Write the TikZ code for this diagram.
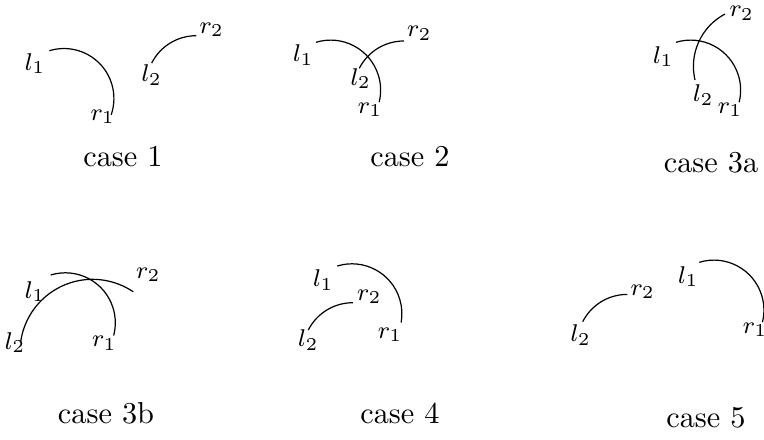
\documentclass[tikz,border=0pt]{standalone}
\begin{document}
\begin{tikzpicture}[x=0.33pt,y=-0.33pt,
  lab/.style={inner sep=0pt,font=\footnotesize},
  caselabel/.style={inner sep=0pt},
  curve/.style={line width=0.4pt}]
\useasboundingbox (0,0) rectangle (764,439);
% ---- case 1
\coordinate (a1s) at (49.3,50.7);
\coordinate (b1s) at (151.7,63);
\draw[curve] (a1s) arc[start angle=-107,end angle=19,radius=50];
\draw[curve] (b1s) arc[start angle=-153,end angle=-90,radius=50];
\node[lab] (c1l1) at (35,63.3) {$l_1$};
\node[lab] (c1r1) at (102.7,116.7) {$r_1$};
\node[lab] (c1l2) at (151.7,75) {$l_2$};
\node[lab] (c1r2) at (211.7,30) {$r_2$};
\node[caselabel] (cap1) at (123,157) {case 1};
% ---- case 2
\coordinate (a2s) at (316,42.3);
\coordinate (b2s) at (359.3,68.3);
\draw[curve] (a2s) arc[start angle=-107,end angle=14,radius=50];
\draw[curve] (b2s) arc[start angle=-153,end angle=-90,radius=50];
\node[lab] (c2l1) at (303.3,55) {$l_1$};
\node[lab] (c2r1) at (370,110) {$r_1$};
\node[lab] (c2l2) at (360.7,78.3) {$l_2$};
\node[lab] (c2r2) at (419.3,33.3) {$r_2$};
\node[caselabel] (cap2) at (410,157) {case 2};
% ---- case 3a
\coordinate (a3s) at (676,42.3);
\coordinate (b3s) at (695,80);
\draw[curve] (a3s) arc[start angle=-107,end angle=14,radius=50];
\draw[curve] (b3s) arc[start angle=166.7,end angle=242.2,radius=59.2];
\node[lab] (c3l1) at (663.3,56.7) {$l_1$};
\node[lab] (c3r1) at (730,110) {$r_1$};
\node[lab] (c3l2) at (703.3,95) {$l_2$};
\node[lab] (c3r2) at (741.7,13.3) {$r_2$};
\node[caselabel] (cap3) at (711,163) {case 3a};
% ---- case 3b
\coordinate (a4s) at (50.7,275);
\coordinate (b4s) at (20.7,341.7);
\draw[curve] (a4s) arc[start angle=-107,end angle=14.7,radius=50];
\draw[curve] (b4s) arc[start angle=188.1,end angle=304.1,radius=72.6];
\node[lab] (c4l1) at (35,291.7) {$l_1$};
\node[lab] (c4r1) at (104.3,343.3) {$r_1$};
\node[lab] (c4l2) at (15,342.7) {$l_2$};
\node[lab] (c4r2) at (148.3,275) {$r_2$};
\node[caselabel] (cap4) at (106,413) {case 3b};
% ---- case 4
\coordinate (a5s) at (337.3,266);
\coordinate (b5s) at (308.3,330);
\draw[curve] (a5s) arc[start angle=-107,end angle=10,radius=50];
\draw[curve] (b5s) arc[start angle=-153,end angle=-90,radius=50];
\node[lab] (c5l1) at (323.3,280) {$l_1$};
\node[lab] (c5r1) at (390,335) {$r_1$};
\node[lab] (c5l2) at (308.3,340) {$l_2$};
\node[lab] (c5r2) at (369.3,296.7) {$r_2$};
\node[caselabel] (cap5) at (400,413) {case 4};
% ---- case 5
\coordinate (a6s) at (699.3,262.3);
\coordinate (b6s) at (582.7,321.7);
\draw[curve] (a6s) arc[start angle=-107,end angle=14,radius=50];
\draw[curve] (b6s) arc[start angle=-153,end angle=-90,radius=50];
\node[lab] (c6l1) at (688.3,276.7) {$l_1$};
\node[lab] (c6r1) at (755,330) {$r_1$};
\node[lab] (c6l2) at (580.7,335) {$l_2$};
\node[lab] (c6r2) at (642.7,291.7) {$r_2$};
\node[caselabel] (cap6) at (706,418) {case 5};
\end{tikzpicture}
\end{document}
